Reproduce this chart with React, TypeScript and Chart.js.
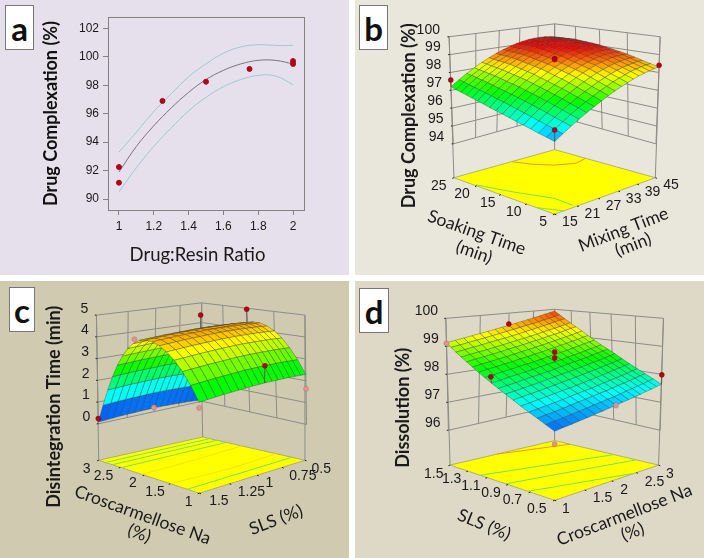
import React, { useEffect, useRef } from "react";
import { Chart, registerables } from "chart.js";
Chart.register(...registerables);

// ---------- panel a ----------
const aRatio = [1, 1.1, 1.2, 1.3, 1.4, 1.5, 1.6, 1.7, 1.8, 1.9, 2];
const aFit = [91.9, 93.7, 95.15, 96.4, 97.5, 98.4, 99.05, 99.5, 99.75, 99.75, 99.5];
const aUpper = [93.3, 94.7, 96.15, 97.4, 98.6, 99.5, 100.25, 100.7, 100.85, 100.8, 100.8];
const aLower = [90.5, 92.2, 93.7, 95.0, 96.2, 97.15, 97.9, 98.4, 98.7, 98.65, 98.05];
const aPointX = [1, 1, 1.25, 1.5, 1.75, 2, 2];
const aPointY = [92.25, 91.15, 96.9, 98.25, 99.15, 99.7, 99.5];
const aXTicks = [1, 1.2, 1.4, 1.6, 1.8, 2];
const aYTicks = [90, 92, 94, 96, 98, 100, 102];

// ---------- panel b: rows soaking time 5 -> 25, columns mixing time 15 -> 45 ----------
const bSurface = [
  [96, 96.27, 96.53, 96.77, 96.99, 97.19, 97.38, 97.55, 97.70, 97.84, 97.95, 98.05, 98.14, 98.20, 98.25, 98.29, 98.30],
  [96.09, 96.37, 96.64, 96.89, 97.12, 97.33, 97.52, 97.70, 97.85, 97.99, 98.10, 98.20, 98.29, 98.34, 98.39, 98.42, 98.42],
  [96.17, 96.47, 96.75, 97.01, 97.25, 97.46, 97.66, 97.84, 98.00, 98.14, 98.25, 98.35, 98.43, 98.48, 98.52, 98.54, 98.53],
  [96.26, 96.57, 96.86, 97.13, 97.38, 97.60, 97.80, 97.99, 98.15, 98.29, 98.40, 98.50, 98.57, 98.62, 98.65, 98.66, 98.65],
  [96.34, 96.66, 96.97, 97.25, 97.50, 97.73, 97.94, 98.13, 98.29, 98.43, 98.55, 98.64, 98.71, 98.76, 98.78, 98.78, 98.76],
  [96.42, 96.75, 97.06, 97.35, 97.60, 97.83, 98.05, 98.24, 98.40, 98.54, 98.65, 98.74, 98.81, 98.85, 98.87, 98.87, 98.84],
  [96.50, 96.83, 97.15, 97.44, 97.70, 97.93, 98.15, 98.34, 98.50, 98.64, 98.75, 98.84, 98.90, 98.94, 98.96, 98.95, 98.92],
  [96.58, 96.92, 97.24, 97.53, 97.80, 98.03, 98.25, 98.44, 98.60, 98.74, 98.85, 98.94, 99.00, 99.03, 99.05, 99.03, 98.99],
  [96.65, 97.00, 97.32, 97.62, 97.89, 98.13, 98.35, 98.54, 98.70, 98.84, 98.95, 99.03, 99.09, 99.12, 99.13, 99.11, 99.06],
  [96.72, 97.07, 97.39, 97.69, 97.96, 98.20, 98.41, 98.60, 98.76, 98.90, 99.00, 99.08, 99.14, 99.17, 99.17, 99.15, 99.10],
  [96.80, 97.14, 97.46, 97.75, 98.02, 98.26, 98.47, 98.66, 98.82, 98.95, 99.05, 99.13, 99.18, 99.21, 99.21, 99.18, 99.13],
  [96.87, 97.21, 97.53, 97.82, 98.08, 98.32, 98.53, 98.72, 98.87, 99.00, 99.10, 99.18, 99.23, 99.25, 99.25, 99.22, 99.16],
  [96.94, 97.28, 97.60, 97.88, 98.14, 98.38, 98.59, 98.77, 98.92, 99.05, 99.15, 99.22, 99.27, 99.29, 99.28, 99.25, 99.19],
  [97.00, 97.34, 97.65, 97.92, 98.18, 98.41, 98.61, 98.79, 98.93, 99.06, 99.16, 99.22, 99.27, 99.29, 99.28, 99.24, 99.18],
  [97.07, 97.40, 97.70, 97.96, 98.21, 98.43, 98.63, 98.80, 98.94, 99.06, 99.16, 99.22, 99.26, 99.28, 99.27, 99.23, 99.17],
  [97.13, 97.46, 97.75, 98.00, 98.25, 98.46, 98.65, 98.82, 98.95, 99.07, 99.16, 99.22, 99.26, 99.27, 99.26, 99.22, 99.16],
  [97.20, 97.51, 97.79, 98.04, 98.28, 98.48, 98.67, 98.83, 98.96, 99.07, 99.16, 99.22, 99.25, 99.26, 99.25, 99.21, 99.15],
];
const bSoakTicks = [5, 10, 15, 20, 25];
const bMixTicks = [15, 21, 27, 33, 39, 45];
const bZTicks = [94, 95, 96, 97, 98, 99, 100];
const bPointsAbove = [[25, 15, 97.58], [5, 15, 96.6], [5, 45, 98.4], [15, 30, 98.78], [15, 30, 98.72]];
const bPointsBelow: number[][] = [];

// ---------- panel c: rows croscarmellose 1 -> 3, columns SLS 1.5 -> 0.5 ----------
const cSurface = [
  [2.29, 2.31, 2.33, 2.35, 2.36, 2.37, 2.38, 2.39, 2.39, 2.39, 2.38, 2.37, 2.36, 2.35, 2.33, 2.31, 2.29],
  [2.90, 2.92, 2.94, 2.96, 2.97, 2.98, 2.99, 3.00, 3.00, 3.00, 2.99, 2.98, 2.97, 2.96, 2.94, 2.92, 2.90],
  [3.40, 3.42, 3.44, 3.46, 3.47, 3.48, 3.49, 3.50, 3.50, 3.50, 3.49, 3.48, 3.47, 3.46, 3.44, 3.42, 3.40],
  [3.80, 3.82, 3.84, 3.86, 3.87, 3.88, 3.89, 3.90, 3.90, 3.90, 3.89, 3.88, 3.87, 3.86, 3.84, 3.82, 3.80],
  [4.08, 4.10, 4.12, 4.14, 4.15, 4.16, 4.17, 4.18, 4.18, 4.18, 4.17, 4.16, 4.15, 4.14, 4.12, 4.10, 4.08],
  [4.27, 4.29, 4.31, 4.33, 4.34, 4.35, 4.36, 4.37, 4.37, 4.37, 4.36, 4.35, 4.34, 4.33, 4.31, 4.29, 4.27],
  [4.37, 4.39, 4.41, 4.43, 4.44, 4.45, 4.46, 4.47, 4.47, 4.47, 4.46, 4.45, 4.44, 4.43, 4.41, 4.39, 4.37],
  [4.38, 4.40, 4.42, 4.44, 4.45, 4.46, 4.47, 4.48, 4.48, 4.48, 4.47, 4.46, 4.45, 4.44, 4.42, 4.40, 4.38],
  [4.30, 4.32, 4.34, 4.36, 4.37, 4.38, 4.39, 4.40, 4.40, 4.40, 4.39, 4.38, 4.37, 4.36, 4.34, 4.32, 4.30],
  [4.10, 4.12, 4.14, 4.16, 4.17, 4.18, 4.19, 4.20, 4.20, 4.20, 4.19, 4.18, 4.17, 4.16, 4.14, 4.12, 4.10],
  [3.82, 3.84, 3.86, 3.88, 3.89, 3.90, 3.91, 3.92, 3.92, 3.92, 3.91, 3.90, 3.89, 3.88, 3.86, 3.84, 3.82],
  [3.42, 3.44, 3.46, 3.48, 3.49, 3.50, 3.51, 3.52, 3.52, 3.52, 3.51, 3.50, 3.49, 3.48, 3.46, 3.44, 3.42],
  [2.95, 2.97, 2.99, 3.01, 3.02, 3.03, 3.04, 3.05, 3.05, 3.05, 3.04, 3.03, 3.02, 3.01, 2.99, 2.97, 2.95],
  [2.37, 2.39, 2.41, 2.43, 2.44, 2.45, 2.46, 2.47, 2.47, 2.47, 2.46, 2.45, 2.44, 2.43, 2.41, 2.39, 2.37],
  [1.70, 1.72, 1.74, 1.76, 1.77, 1.78, 1.79, 1.80, 1.80, 1.80, 1.79, 1.78, 1.77, 1.76, 1.74, 1.72, 1.70],
  [0.93, 0.95, 0.97, 0.99, 1.00, 1.01, 1.02, 1.03, 1.03, 1.03, 1.02, 1.01, 1.00, 0.99, 0.97, 0.95, 0.93],
  [0.08, 0.10, 0.12, 0.14, 0.15, 0.16, 0.17, 0.18, 0.18, 0.18, 0.17, 0.16, 0.15, 0.14, 0.12, 0.10, 0.08],
];
const cCrosTicks = [1, 1.5, 2, 2.5, 3];
const cSlsTicks = [1.5, 1.25, 1, 0.75, 0.5];
const cZTicks = [0, 1, 2, 3, 4, 5];
const cPointsAbove = [[3, 1.5, 0.24], [2, 1, 5.0], [2, 0.5, 4.95], [1, 0.95, 3.14]];
const cPointsBelow = [[2.1, 1.5, 4.3], [3, 1, 0.2], [1, 1.5, 2.05], [1, 0.5, 1.63]];

// ---------- panel d: rows SLS 0.5 -> 1.5, columns croscarmellose 1 -> 3 ----------
const dSurface = [
  [97.08, 97.12, 97.15, 97.19, 97.22, 97.26, 97.29, 97.33, 97.36, 97.40, 97.43, 97.47, 97.50, 97.54, 97.57, 97.61, 97.64],
  [97.21, 97.25, 97.28, 97.32, 97.35, 97.39, 97.43, 97.46, 97.50, 97.53, 97.57, 97.61, 97.64, 97.68, 97.71, 97.75, 97.79],
  [97.34, 97.38, 97.41, 97.45, 97.49, 97.53, 97.56, 97.60, 97.64, 97.67, 97.71, 97.75, 97.78, 97.82, 97.86, 97.90, 97.93],
  [97.46, 97.50, 97.54, 97.57, 97.61, 97.65, 97.69, 97.73, 97.76, 97.80, 97.84, 97.88, 97.92, 97.95, 97.99, 98.03, 98.07],
  [97.59, 97.63, 97.67, 97.71, 97.75, 97.79, 97.82, 97.86, 97.90, 97.94, 97.98, 98.02, 98.06, 98.10, 98.14, 98.18, 98.21],
  [97.72, 97.76, 97.80, 97.84, 97.88, 97.92, 97.96, 98.00, 98.04, 98.08, 98.12, 98.16, 98.20, 98.24, 98.28, 98.32, 98.36],
  [97.85, 97.89, 97.93, 97.97, 98.01, 98.06, 98.10, 98.14, 98.18, 98.22, 98.26, 98.30, 98.34, 98.38, 98.42, 98.47, 98.51],
  [97.98, 98.02, 98.06, 98.11, 98.15, 98.19, 98.23, 98.27, 98.32, 98.36, 98.40, 98.44, 98.48, 98.53, 98.57, 98.61, 98.65],
  [98.10, 98.14, 98.19, 98.23, 98.27, 98.31, 98.36, 98.40, 98.44, 98.48, 98.53, 98.57, 98.61, 98.65, 98.70, 98.74, 98.78],
  [98.23, 98.27, 98.32, 98.36, 98.41, 98.45, 98.49, 98.54, 98.58, 98.63, 98.67, 98.71, 98.76, 98.80, 98.85, 98.89, 98.93],
  [98.36, 98.41, 98.45, 98.50, 98.54, 98.59, 98.63, 98.68, 98.72, 98.77, 98.81, 98.86, 98.90, 98.95, 98.99, 99.04, 99.08],
  [98.49, 98.54, 98.58, 98.63, 98.67, 98.72, 98.77, 98.81, 98.86, 98.90, 98.95, 99.00, 99.04, 99.09, 99.13, 99.18, 99.23],
  [98.62, 98.67, 98.71, 98.76, 98.81, 98.86, 98.90, 98.95, 99.00, 99.04, 99.09, 99.14, 99.18, 99.23, 99.28, 99.33, 99.37],
  [98.74, 98.79, 98.84, 98.88, 98.93, 98.98, 99.03, 99.08, 99.12, 99.17, 99.22, 99.27, 99.32, 99.36, 99.41, 99.46, 99.51],
  [98.87, 98.92, 98.97, 99.02, 99.07, 99.12, 99.16, 99.21, 99.26, 99.31, 99.36, 99.41, 99.46, 99.51, 99.56, 99.61, 99.65],
  [99.00, 99.05, 99.10, 99.15, 99.20, 99.25, 99.30, 99.35, 99.40, 99.45, 99.50, 99.54, 99.59, 99.64, 99.69, 99.74, 99.79],
  [99.13, 99.18, 99.23, 99.28, 99.33, 99.38, 99.43, 99.48, 99.53, 99.58, 99.63, 99.68, 99.73, 99.78, 99.83, 99.88, 99.93],
];
const dSlsTicks = [0.5, 0.7, 0.9, 1.1, 1.3, 1.5];
const dCrosTicks = [1, 1.5, 2, 2.5, 3];
const dZTicks = [96, 97, 98, 99, 100];
const dPointsAbove = [[1.5, 2, 99.58], [1, 2, 98.8], [1, 2, 98.58], [1, 1, 98.31], [0.5, 3, 97.98]];
const dPointsBelow = [[1.5, 1, 99.11], [0.5, 2, 97.35], [0.5, 1, 96.68]];

type Pt = [number, number];
type Quad = { F: Pt; L: Pt; B: Pt; R: Pt };
const ORANGE = "rgb(240,150,40)";
const GREEN = "rgb(120,225,90)";
const FAINT = "rgb(245,228,0)";

// layout of each box, in units of 1/3 px of the panel's own picture space
const panelB = {
  surface: bSurface, aRange: [5, 25], bRange: [15, 45], zRange: [94, 100],
  aTicks: bSoakTicks, bTicks: bMixTicks, zTicks: bZTicks,
  above: bPointsAbove, below: bPointsBelow, color: [95.5, 99.1],
  low: { F: [610, 545], L: [298, 432], B: [610, 345], R: [922, 432] } as Quad,
  high: { F: [610, 185], L: [285, 100], B: [610, 60], R: [935, 100] } as Quad,
  floor: { F: [610, 650], L: [300, 537], B: [610, 450], R: [920, 537] } as Quad,
  zLabel: [-28, -22], aOffsets: [[-35, 26], [-40, 26], [-40, 26], [-45, 26], [-47, 25]], bOffsets: [[47, 25], [47, 25], [47, 25], [47, 25], [47, 24], [48, 23]],
  contours: [
    { color: ORANGE, pts: [[0.995, 0.545], [0.837, 0.611], [0.71, 0.71], [0.63, 0.855], [0.663, 0.992]] },
    { color: GREEN, pts: [[0.768, 0.01], [0.481, 0.094], [0.2, 0.2], [0.03, 0.19]] },
    { color: GREEN, pts: [[0.159, 0.0], [0.1, 0.03], [0.0, 0.08]] },
  ],
  titleZ: { text: "Drug Complexation (%)", x: 163, y: 345 },
  titles: [
    { text: "Soaking Time", x: 370, y: 707, a: 19.5 }, { text: "(min)", x: 362, y: 768, a: 19.5 },
    { text: "Mixing Time", x: 822, y: 698, a: -21 }, { text: "(min)", x: 852, y: 745, a: -21 },
  ],
};
const panelC = {
  surface: cSurface, aRange: [1, 3], bRange: [1.5, 0.5], zRange: [0, 5],
  aTicks: cCrosTicks, bTicks: cSlsTicks, zTicks: cZTicks,
  above: cPointsAbove, below: cPointsBelow, color: [0, 5.3],
  low: { F: [600, 537], L: [289, 435], B: [608, 365], R: [930, 437] } as Quad,
  high: { F: [598, 168], L: [283, 98], B: [607, 60], R: [925, 98] } as Quad,
  floor: { F: [600, 650], L: [290, 548], B: [610, 476], R: [925, 548] } as Quad,
  zLabel: [-25, -20], aOffsets: [[-33, 27], [-47, 26], [-35, 26], [-52, 27], [-37, 27]], bOffsets: [[60, 25], [67, 27], [38, 26], [64, 27], [50, 29]],
  contours: [
    { color: GREEN, pts: [[0.92, 0], [0.92, 1]] }, { color: GREEN, pts: [[0.84, 0], [0.84, 1]] },
    { color: GREEN, pts: [[0.74, 0], [0.74, 1]] }, { color: GREEN, pts: [[0.1, 0], [0.11, 1]] },
    { color: FAINT, pts: [[0.52, 0], [0.54, 0.5], [0.58, 1]] }, { color: FAINT, pts: [[0.25, 0], [0.22, 0.5], [0.25, 1]] },
  ],
  titleZ: { text: "Disintegration Time (min)", x: 153, y: 382 },
  titles: [
    { text: "Croscarmellose Na", x: 425, y: 718, a: 19.8 }, { text: "(%)", x: 415, y: 775, a: 19.8 },
    { text: "SLS (%)", x: 836, y: 733, a: -21 },
  ],
};
const panelD = {
  surface: dSurface, aRange: [0.5, 1.5], bRange: [1, 3], zRange: [96, 100],
  aTicks: dSlsTicks, bTicks: dCrosTicks, zTicks: dZTicks,
  above: dPointsAbove, below: dPointsBelow, color: [96.77, 100.1],
  low: { F: [610, 564], L: [283, 455], B: [610, 380], R: [935, 455] } as Quad,
  high: { F: [610, 172], L: [275, 108], B: [610, 80], R: [945, 108] } as Quad,
  floor: { F: [610, 672], L: [288, 563], B: [610, 487], R: [930, 563] } as Quad,
  zLabel: [-24, -22], aOffsets: [[-55, 26], [-55, 26], [-52, 26], [-50, 26], [-50, 26], [-50, 29]], bOffsets: [[35, 28], [55, 26], [38, 27], [56, 28], [35, 27]],
  contours: [
    { color: ORANGE, pts: [[1, 0.41], [0.83, 1]] },
    { color: GREEN, pts: [[0.67, 0], [0.39, 1]] },
    { color: GREEN, pts: [[0.42, 0], [0.19, 1]] },
    { color: GREEN, pts: [[0.22, 0], [0, 0.73]] },
  ],
  titleZ: { text: "Dissolution (%)", x: 143, y: 385 },
  titles: [
    { text: "SLS (%)", x: 393, y: 748, a: 22 },
    { text: "Croscarmellose Na", x: 825, y: 718, a: -21 }, { text: "(%)", x: 850, y: 770, a: -21 },
  ],
};

function homography(q: Quad, u: number, v: number): Pt {
  const [x0, y0] = q.F, [x1, y1] = q.L, [x2, y2] = q.B, [x3, y3] = q.R;
  const dx1 = x1 - x2, dx2 = x3 - x2, sx = x0 - x1 + x2 - x3;
  const dy1 = y1 - y2, dy2 = y3 - y2, sy = y0 - y1 + y2 - y3;
  const den = dx1 * dy2 - dx2 * dy1;
  const g = (sx * dy2 - dx2 * sy) / den, h = (dx1 * sy - sx * dy1) / den;
  const a = x1 - x0 + g * x1, b = x3 - x0 + h * x3, d = y1 - y0 + g * y1, e = y3 - y0 + h * y3;
  const w = g * u + h * v + 1;
  return [(a * u + b * v + x0) / w, (d * u + e * v + y0) / w];
}

function rainbow(t: number) {
  const stops = [[0, 0, 255], [0, 255, 255], [0, 255, 0], [255, 255, 0], [255, 0, 0]];
  const p = Math.max(0, Math.min(0.9999, t)) * 4;
  const k = Math.floor(p), f = p - k;
  const c = stops[k].map((v, n) => Math.round(v + (stops[k + 1][n] - v) * f));
  return `rgb(${c[0]},${c[1]},${c[2]})`;
}

function makeSurfaceChart(canvas: HTMLCanvasElement, p: typeof panelB) {
  const norm = (r: number[], v: number) => (v - r[0]) / (r[1] - r[0]);
  const box = (s: number, t: number, z: number): Pt => {
    const h = norm(p.zRange, z);
    const lo = homography(p.low, s, t), hi = homography(p.high, s, t);
    return [lo[0] + (hi[0] - lo[0]) * h, lo[1] + (hi[1] - lo[1]) * h];
  };
  const toXY = (pt: Pt) => ({ x: pt[0], y: pt[1] });
  const nI = p.surface.length, nJ = p.surface[0].length;
  const nodes = p.surface.flatMap((row, i) => row.map((z, j) => toXY(box(i / (nI - 1), j / (nJ - 1), z))));
  const pointXY = (r: number[]) => toXY(box(norm(p.aRange, r[0]), norm(p.bRange, r[1]), r[2]));

  const plugin = {
    id: "surface3d",
    beforeDatasetsDraw(chart: any) {
      const ctx = chart.ctx;
      const X = chart.scales.x, Y = chart.scales.y;
      const px = (q: Pt): Pt => [X.getPixelForValue(q[0]), Y.getPixelForValue(q[1])];
      const line = (pts: Pt[], color: string, w: number) => {
        ctx.beginPath();
        pts.forEach((q, n) => { const [a, b] = px(q); n ? ctx.lineTo(a, b) : ctx.moveTo(a, b); });
        ctx.strokeStyle = color; ctx.lineWidth = w; ctx.stroke();
      };
      const text = (s: string, x: number, y: number, font: string, align: CanvasTextAlign, deg: number) => {
        const [a, b] = px([x, y]);
        ctx.save(); ctx.translate(a, b); ctx.rotate((deg * Math.PI) / 180);
        ctx.font = font; ctx.textAlign = align; ctx.textBaseline = "middle"; ctx.fillStyle = "#1a1a1a";
        ctx.fillText(s, 0, 0); ctx.restore();
      };
      const [z0, z1] = p.zRange;
      const wall = "rgb(140,140,135)";
      // walls
      for (const z of p.zTicks) line([box(1, 0, z), box(1, 1, z), box(0, 1, z)], wall, 1);
      for (const a of p.aTicks) { const s = norm(p.aRange, a); line([box(s, 1, z0), box(s, 1, z1)], wall, 1); }
      for (const b of p.bTicks) { const t = norm(p.bRange, b); line([box(1, t, z0), box(1, t, z1)], wall, 1); }
      line([box(1, 0, z1), homography(p.floor, 1, 0)], wall, 1);
      line([box(1, 1, z0), homography(p.floor, 1, 1)], wall, 1);
      line([box(0, 1, z1), homography(p.floor, 0, 1)], wall, 1);
      // floor
      ctx.beginPath();
      [p.floor.F, p.floor.L, p.floor.B, p.floor.R].forEach((q, n) => { const [a, b] = px(q as Pt); n ? ctx.lineTo(a, b) : ctx.moveTo(a, b); });
      ctx.closePath(); ctx.fillStyle = "rgb(255,255,0)"; ctx.fill();
      ctx.strokeStyle = "rgb(150,150,110)"; ctx.lineWidth = 0.7; ctx.stroke();
      for (const c of p.contours) line(c.pts.map((q) => homography(p.floor, q[0], q[1])), c.color, 1);
      // tick marks and labels
      const tickFont = "14px 'Liberation Sans'";
      p.aTicks.forEach((a, n) => {
        const q = homography(p.floor, norm(p.aRange, a), 0);
        line([q, [q[0] - 5, q[1] + 2]], "#222", 1);
        text(String(a), q[0] + p.aOffsets[n][0], q[1] + p.aOffsets[n][1], tickFont, "center", 0);
      });
      p.bTicks.forEach((b, n) => {
        const q = homography(p.floor, 0, norm(p.bRange, b));
        line([q, [q[0] + 5, q[1] + 2]], "#222", 1);
        text(String(b), q[0] + p.bOffsets[n][0], q[1] + p.bOffsets[n][1], tickFont, "center", 0);
      });
      p.zTicks.forEach((z) => {
        const q = box(1, 0, z);
        line([q, [q[0] - 5, q[1]]], "#222", 1);
        text(String(z), q[0] + p.zLabel[0], q[1] + p.zLabel[1], tickFont, "right", 0);
      });
      text(p.titleZ.text, p.titleZ.x, p.titleZ.y, "bold 18px Lato", "center", -90);
      for (const t of p.titles) text(t.text, t.x, t.y, "17.5px Lato", "center", t.a);
      // surface, back to front, through the node dataset's own points
      const el = chart.getDatasetMeta(2).data;
      for (let i = nI - 2; i >= 0; i--) {
        for (let j = nJ - 2; j >= 0; j--) {
          const corners = [i * nJ + j, (i + 1) * nJ + j, (i + 1) * nJ + j + 1, i * nJ + j + 1];
          ctx.beginPath();
          corners.forEach((k, n) => (n ? ctx.lineTo(el[k].x, el[k].y) : ctx.moveTo(el[k].x, el[k].y)));
          ctx.closePath();
          const zAvg = (p.surface[i][j] + p.surface[i + 1][j] + p.surface[i + 1][j + 1] + p.surface[i][j + 1]) / 4;
          ctx.fillStyle = rainbow(norm(p.color, zAvg));
          ctx.fill();
          ctx.strokeStyle = "rgba(50,60,50,0.6)"; ctx.lineWidth = 0.6; ctx.stroke();
        }
      }
      // stems from the points above the surface
      for (const r of p.above) {
        const s = norm(p.aRange, r[0]), t = norm(p.bRange, r[1]);
        const zs = p.surface[Math.round(s * (nI - 1))][Math.round(t * (nJ - 1))];
        if (r[2] > zs) line([box(s, t, r[2]), box(s, t, zs)], "rgb(90,90,90)", 1);
      }
    },
  };

  return new Chart(canvas, {
    type: "scatter",
    data: {
      datasets: [
        { label: "Design points above surface", data: p.above.map(pointXY), pointRadius: 2.5, pointBackgroundColor: "rgb(175,5,20)", pointBorderColor: "rgb(150,0,15)", pointBorderWidth: 0.5 },
        { label: "Design points below surface", data: p.below.map(pointXY), pointRadius: 2.5, pointBackgroundColor: "rgb(228,145,145)", pointBorderColor: "rgb(190,110,110)", pointBorderWidth: 0.5 },
        { label: "Response surface", data: nodes, pointRadius: 0 },
      ],
    },
    options: {
      responsive: false, animation: false, events: [],
      layout: { padding: 0 },
      plugins: { legend: { display: false }, tooltip: { enabled: false }, title: { display: false } },
      scales: {
        x: { type: "linear", display: false, min: 0, max: 1056 },
        y: { type: "linear", display: false, min: 0, max: 837, reverse: true },
      },
    },
    plugins: [plugin],
  } as any);
}

function makeFitChart(canvas: HTMLCanvasElement) {
  const series = (ys: number[]) => ys.map((y, i) => ({ x: aRatio[i], y }));
  const axisGray = "rgb(130,130,130)";
  const plugin = {
    id: "frameA",
    afterDraw(chart: any) {
      const { left, top, right, bottom } = chart.chartArea;
      const ctx = chart.ctx;
      ctx.save();
      ctx.strokeStyle = axisGray; ctx.lineWidth = 1;
      ctx.strokeRect(left + 0.5, top + 0.5, right - left, bottom - top);
      ctx.font = "18.5px Lato"; ctx.fillStyle = "#1a1a1a"; ctx.textAlign = "center"; ctx.textBaseline = "middle";
      ctx.fillText("Drug:Resin Ratio", 197.5, 255);
      ctx.restore();
    },
  };
  const lineBase = { showLine: true, pointRadius: 0, tension: 0.4, fill: false };
  return new Chart(canvas, {
    type: "scatter",
    data: {
      datasets: [
        { label: "Observed", data: aPointX.map((x, i) => ({ x, y: aPointY[i] })), pointRadius: 2.5, pointBackgroundColor: "rgb(175,5,20)", pointBorderColor: "rgb(175,5,20)", showLine: false },
        { ...lineBase, label: "Fit", data: series(aFit), borderColor: "rgb(120,115,125)", borderWidth: 1 },
        { ...lineBase, label: "Upper", data: series(aUpper), borderColor: "rgb(160,200,208)", borderWidth: 1 },
        { ...lineBase, label: "Lower", data: series(aLower), borderColor: "rgb(160,200,208)", borderWidth: 1 },
      ],
    },
    options: {
      responsive: false, animation: false, events: [],
      layout: { padding: { top: 17, right: 45, left: 0, bottom: 0 } },
      plugins: { legend: { display: false }, tooltip: { enabled: false } },
      scales: {
        x: {
          type: "linear", min: 0.937, max: 2.063,
          afterBuildTicks: (s: any) => { s.ticks = aXTicks.map((value) => ({ value })); },
          afterFit: (s: any) => { s.height = 65; },
          border: { color: axisGray },
          grid: { drawOnChartArea: false, tickLength: 5, color: axisGray },
          ticks: { color: "#1a1a1a", font: { family: "'Liberation Sans'", size: 12 }, maxRotation: 0, padding: 4, callback: (v: any) => String(v) },
        },
        y: {
          type: "linear", min: 89.23, max: 102.8,
          afterBuildTicks: (s: any) => { s.ticks = aYTicks.map((value) => ({ value })); },
          afterFit: (s: any) => { s.width = 108; },
          border: { color: axisGray },
          grid: { drawOnChartArea: false, tickLength: 5, color: axisGray },
          ticks: { color: "#1a1a1a", font: { family: "'Liberation Sans'", size: 12 }, padding: 4, callback: (v: any) => String(v) },
          title: { display: true, text: "Drug Complexation (%)", color: "#111", font: { family: "Lato", size: 18, weight: "bold" }, padding: { top: 40, bottom: 0 } },
        },
      },
    },
    plugins: [plugin],
  } as any);
}

const Badge = (b: { letter: string; x: number; y: number; w: number; h: number }) => (
  <div style={{ position: "absolute", left: b.x, top: b.y, width: b.w, height: b.h, background: "#fff", border: "1px solid #777", boxSizing: "border-box", display: "flex", alignItems: "center", justifyContent: "center", font: "bold 33px Lato", color: "#111", zIndex: 2 }}>{b.letter}</div>
);

export default function App() {
  const a = useRef<HTMLCanvasElement>(null);
  const b = useRef<HTMLCanvasElement>(null);
  const c = useRef<HTMLCanvasElement>(null);
  const d = useRef<HTMLCanvasElement>(null);
  useEffect(() => {
    const charts = [
      makeFitChart(a.current!),
      makeSurfaceChart(b.current!, panelB as any),
      makeSurfaceChart(c.current!, panelC as any),
      makeSurfaceChart(d.current!, panelD as any),
    ];
    return () => charts.forEach((ch) => ch.destroy());
  }, []);
  const abs = (left: number, top: number, width: number, height: number, background?: string): React.CSSProperties => ({ position: "absolute", left, top, width, height, background });
  return (
    <div style={{ position: "absolute", left: 0, top: 0, width: 704, height: 558, background: "#fff", overflow: "hidden" }}>
      <div style={abs(0, 0, 349, 275, "#E5E0EC")} />
      <div style={abs(355, 0, 349, 275, "#E9E7DC")} />
      <div style={abs(0, 281, 349, 277, "#D0CAB0")} />
      <div style={abs(355, 281, 349, 277, "#DDD9C6")} />
      <canvas ref={a} width={349} height={275} style={{ ...abs(0, 0, 349, 275), display: "block" }} />
      <canvas ref={b} width={352} height={279} style={{ ...abs(352, 0, 352, 279), display: "block" }} />
      <canvas ref={c} width={352} height={279} style={{ ...abs(0, 279, 352, 279), display: "block" }} />
      <canvas ref={d} width={352} height={279} style={{ ...abs(352, 279, 352, 279), display: "block" }} />
      <Badge letter="a" x={5} y={5} w={29} h={45} />
      <Badge letter="b" x={359} y={5} w={29} h={45} />
      <Badge letter="c" x={9} y={287} w={26} h={45} />
      <Badge letter="d" x={359} y={288} w={30} h={45} />
    </div>
  );
}
